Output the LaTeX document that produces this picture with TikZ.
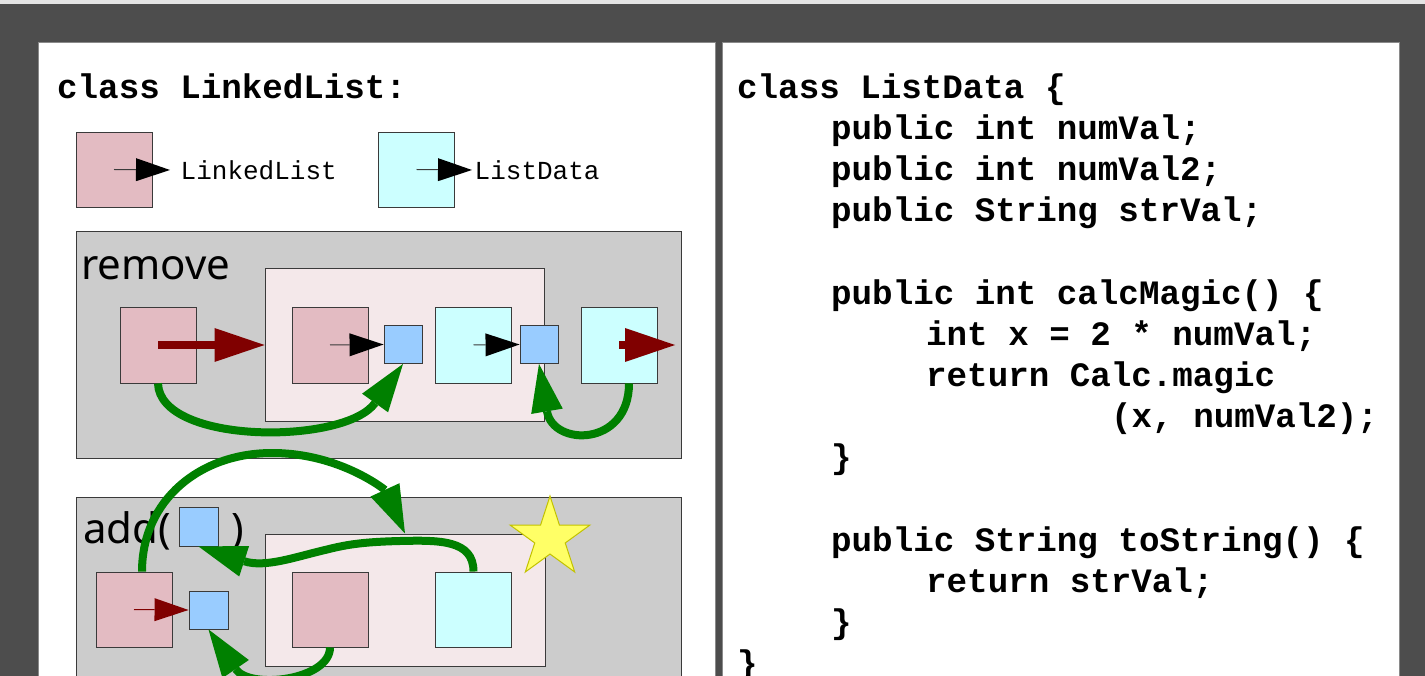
\documentclass[tikz,border=0pt]{standalone}
\usepackage{fontspec}
\setmainfont{Noto Sans}
\newfontfamily\codefont{Liberation Mono}
\usetikzlibrary{arrows.meta,shapes.geometric}
\definecolor{bgdark}{HTML}{4D4D4D}
\definecolor{topstrip}{HTML}{E4E4E4}
\definecolor{panelline}{HTML}{8A8A8A}
\definecolor{llpink}{HTML}{E3BBC2}
\definecolor{ldcyan}{HTML}{CCFFFF}
\definecolor{ptrblue}{HTML}{99CCFF}
\definecolor{areagray}{HTML}{CCCCCC}
\definecolor{scopepink}{HTML}{F4E8EA}
\definecolor{boxline}{HTML}{3A3A3A}
\definecolor{darkred}{HTML}{800000}
\definecolor{arrgreen}{HTML}{008000}
\definecolor{staryellow}{HTML}{FFFF66}
\definecolor{starline}{HTML}{C2C200}
\tikzset{
  box/.style={rectangle, draw=boxline, line width=0.9pt, inner sep=0pt, minimum width=76pt, minimum height=76pt},
  pinkbox/.style={box, fill=llpink},
  cyanbox/.style={box, fill=ldcyan},
  ptrbox/.style={box, fill=ptrblue, minimum width=38pt, minimum height=38pt},
  area/.style={rectangle, draw=boxline, line width=1pt, fill=areagray, inner sep=0pt},
  scopebox/.style={rectangle, draw=boxline, line width=1pt, fill=scopepink, inner sep=0pt},
  blackptr/.style={draw=boxline, line width=1pt, -{Triangle[length=34pt,width=23pt,line width=0pt,color=black]}},
  redthin/.style={draw=darkred, line width=1pt, -{Triangle[length=34pt,width=23pt,line width=0pt]}},
  redthick/.style={draw=darkred, line width=8pt, -{Triangle[length=50pt,width=34pt,line width=0pt]}},
  greenptr/.style={draw=arrgreen, line width=8pt, -{Triangle[length=48pt,width=32pt,line width=0pt]}},
  code/.style={font=\codefont\bfseries\fontsize{34.2pt}{41pt}\selectfont, anchor=base west, inner sep=0pt},
  legendtxt/.style={font=\codefont\fontsize{26pt}{30pt}\selectfont, anchor=base west, inner sep=0pt},
  opname/.style={font=\fontsize{42pt}{48pt}\selectfont, anchor=base west, inner sep=0pt},
}
\begin{document}
\begin{tikzpicture}[x=1pt,y=-1pt]
\clip (0,0) rectangle (1425,676);
% background and panels
\fill[bgdark] (0,0) rectangle (1425,676);
\fill[topstrip] (0,0) rectangle (1425,4.5);
\draw[panelline, line width=1pt, fill=white] (38.5,42.5) rectangle (715.5,720);
\draw[panelline, line width=1pt, fill=white] (722.5,42.5) rectangle (1399.5,720);

% left heading
\node[code] (llhead) at (57,99) {class LinkedList:};

% legend
\node[pinkbox, minimum height=75pt] (leg1) at (114,169.5) {};
\coordinate (leg1tip) at (170,170);
\node[legendtxt] (leg1lbl) at (180.5,180) {LinkedList};
\node[cyanbox, minimum height=75pt] (leg2) at (416.5,169.5) {};
\coordinate (leg2tip) at (472,170);
\node[legendtxt] (leg2lbl) at (474.5,180) {ListData};
\draw[blackptr] (leg1.center) -- (leg1tip);
\draw[blackptr] (leg2.center) -- (leg2tip);

% remove area
\node[area, minimum width=605pt, minimum height=226pt] (rmarea) at (378.5,345) {};
\node[opname] (rmlbl) at (81,280) {remove};
\node[scopebox, minimum width=279pt, minimum height=152pt] (inner1) at (404.5,345) {};
\node[pinkbox] (A) at (158,345) {};
\node[pinkbox] (B) at (330,345) {};
\node[ptrbox] (b1) at (403,344.5) {};
\node[cyanbox] (C) at (473.5,345) {};
\node[ptrbox] (b2) at (539,344.5) {};
\node[cyanbox] (D) at (619,345) {};
\coordinate (dtip) at (675,345);
\draw[redthick] (A.center) -- (inner1.west);
\draw[blackptr] (B.center) -- (b1.west);
\draw[blackptr] (C.center) -- (b2.west);
\draw[redthick] (D.center) -- (dtip);

% add area
\node[area, minimum width=605pt, minimum height=246pt] (addarea) at (378.5,620) {};
\node[scopebox, minimum width=280pt, minimum height=132pt] (inner2) at (405,600) {};
\node[star, star points=5, star point ratio=2.62, minimum size=84pt, inner sep=0pt,
      fill=staryellow, draw=starline, line width=1pt] (star) at (550,538) {};
\node[opname] (addlbl) at (83,543) {add(};
\node[opname] (addclose) at (231,543) {)};
\node[ptrbox, minimum width=39pt, minimum height=39pt] (ab) at (198.5,526.5) {};
\node[pinkbox, minimum height=75pt] (E) at (134,609.5) {};
\node[ptrbox, minimum width=39pt] (eb) at (208.5,610) {};
\node[pinkbox, minimum height=75pt] (F) at (330,609.5) {};
\node[cyanbox, minimum height=75pt] (G) at (473.5,609.5) {};
\draw[redthin] (E.center) -- (eb.west);

% green pointer moves
\draw[greenptr] (A.south) .. controls (160,445) and (345,445) .. (b1.south);
\draw[greenptr] ([xshift=10pt]D.south) .. controls (629,447) and (553,447) .. (b2.south);
\draw[greenptr] ([xshift=8pt]E.north) .. controls (142,500) and (200,453) .. (272,453)
   .. controls (340,453) and (385,490) .. (inner2.north);
\draw[greenptr] (G.north) .. controls (473.5,540) and (440,540) .. (400,541)
   .. controls (360,542) and (345,545) .. (325,550)
   .. controls (295,557) and (265,568) .. (ab.south);
\draw[greenptr] (F.south) .. controls (330,680) and (250,690) .. (eb.south);

% right code
\node[code] (r0) at (737,98.5) {class ListData \{};
\node[code] (r1) at (831,139.6) {public int numVal;};
\node[code] (r2) at (831,180.8) {public int numVal2;};
\node[code] (r3) at (831,221.9) {public String strVal;};
\node[code] (r5) at (831,304.2) {public int calcMagic() \{};
\node[code] (r6) at (926,345.4) {int x = 2 * numVal;};
\node[code] (r7) at (926,386.5) {return Calc.magic};
\node[code] (r8) at (1111,427.7) {(x, numVal2);};
\node[code] (r9) at (831,468.8) {\}};
\node[code] (r11) at (831,551.1) {public String toString() \{};
\node[code] (r12) at (926,592.3) {return strVal;};
\node[code] (r13) at (831,633.4) {\}};
\node[code] (r14) at (737,674.6) {\}};
\end{tikzpicture}
\end{document}
